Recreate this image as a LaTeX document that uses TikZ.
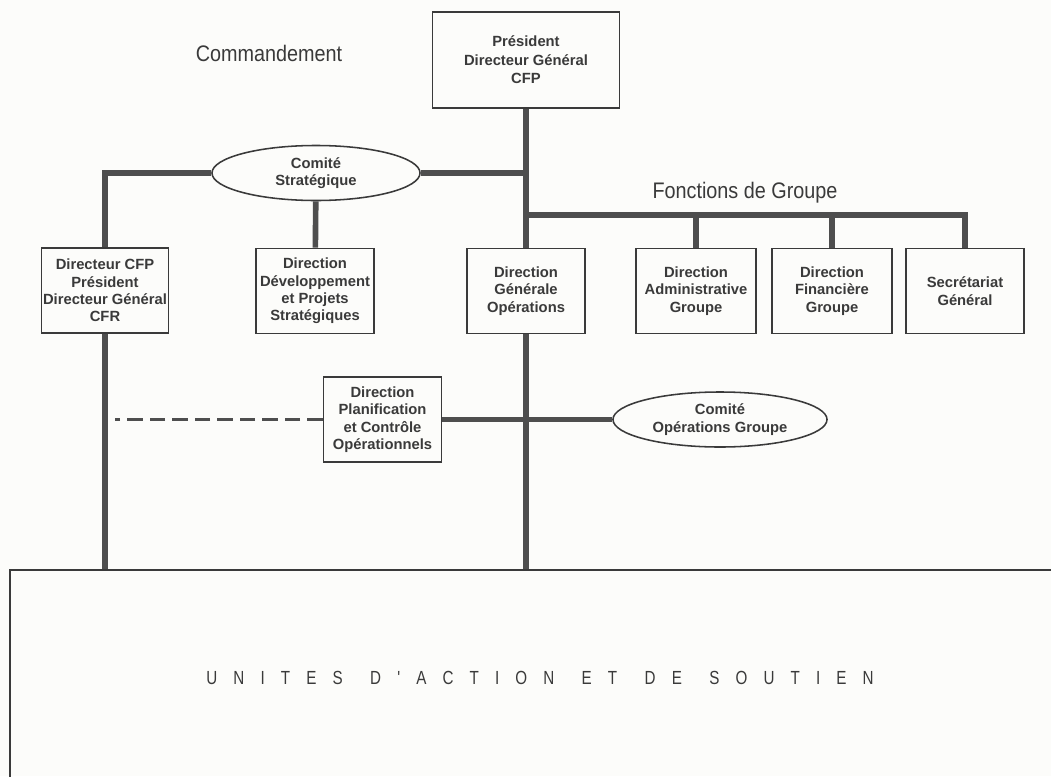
\documentclass[tikz,border=0pt]{standalone}
\usepackage{fontspec}
\setmainfont{Liberation Sans}
\newfontfamily\headfont[FakeStretch=0.88]{Liberation Sans}
\newfontfamily\unitfont[FakeStretch=0.8,LetterSpace=85]{Liberation Sans}
\newcommand\gap{\hspace{5pt}}
\usetikzlibrary{shapes.geometric}
\definecolor{ink}{HTML}{3A3A3A}
\definecolor{paper}{HTML}{FCFCFA}

\begin{document}
\begin{tikzpicture}[x=0.025cm,y=-0.025cm,
	every node/.style={text=ink},
	box/.style={draw=ink,line width=1.1pt,minimum width=2.95cm,minimum height=2.125cm,align=center,inner sep=1pt,font=\bfseries\fontsize{10.5}{12.4}\selectfont},
	comite/.style={ellipse,draw=ink,line width=1.1pt,minimum width=5.2cm,minimum height=1.375cm,align=center,inner sep=0pt,font=\bfseries\fontsize{10.5}{12.4}\selectfont},
	link/.style={draw=ink!90,line width=4pt},
	title/.style={font=\headfont\fontsize{16}{19}\selectfont}]
	\fill[paper] (0,0) rectangle (1051,776);
	\clip (0,0) rectangle (1051,776);
	% titres
	\node[title] (cmd) at (269,53) {Commandement};
	\node[title] (fct) at (745,193) {Fonctions de Groupe};
	% commandement
	\node[box,minimum width=4.675cm,minimum height=2.4cm,font=\bfseries\fontsize{10.5}{13.2}\selectfont] (pdg) at (526,60) {Président\\Directeur Général\\CFP};
	\node[comite] (cs) at (316,173) {Comité\\Stratégique};
	\node[box,minimum width=3.125cm] (cfp) at (105,290.5) {Directeur CFP\\Président\\Directeur Général\\CFR};
	\node[box] (dev) at (315,291) {Direction\\Développement\\et Projets\\Stratégiques};
	\node[box] (dgo) at (526,291) {Direction\\Générale\\Opérations};
	% fonctions de groupe
	\node[box,minimum width=3cm] (adm) at (696,291) {Direction\\Administrative\\Groupe};
	\node[box,minimum width=3cm] (fin) at (832,291) {Direction\\Financière\\Groupe};
	\node[box] (sg) at (965,291) {Secrétariat\\Général};
	% operations
	\node[box] (pco) at (382.5,419.5) {Direction\\Planification\\et Contrôle\\Opérationnels};
	\node[comite,minimum width=5.35cm] (cog) at (720,419.5) {Comité\\Opérations Groupe};
	\node[draw=ink,line width=1.3pt,minimum width=26.5cm,minimum height=5.375cm,font=\unitfont\fontsize{13.5}{15}\selectfont] (units) at (540,677.5) {UNITES\gap{} D'ACTION\gap{} ET\gap{} DE\gap{} SOUTIEN};
	\coordinate (fg) at (526,215);
	\coordinate (pt) at (115,419.5);
	% liaisons
	\draw[link] (pdg) -- (dgo);
	\draw[link] (dgo) -- (dgo |- units.north);
	\draw[link] (cfp) |- (cs);
	\draw[link] (cs) -- (cs -| dgo);
	\draw[link] (cs) -- (dev);
	\draw[link] (fg) -| (sg);
	\draw[link] (adm) -- (adm |- fg);
	\draw[link] (fin) -- (fin |- fg);
	\draw[link] (pco) -- (cog);
	\draw[link,line width=2.4pt,dash pattern=on 11pt off 5pt] (pco) -- (pt);
	\draw[link] (cfp) -- (cfp |- units.north);
\end{tikzpicture}
\end{document}
